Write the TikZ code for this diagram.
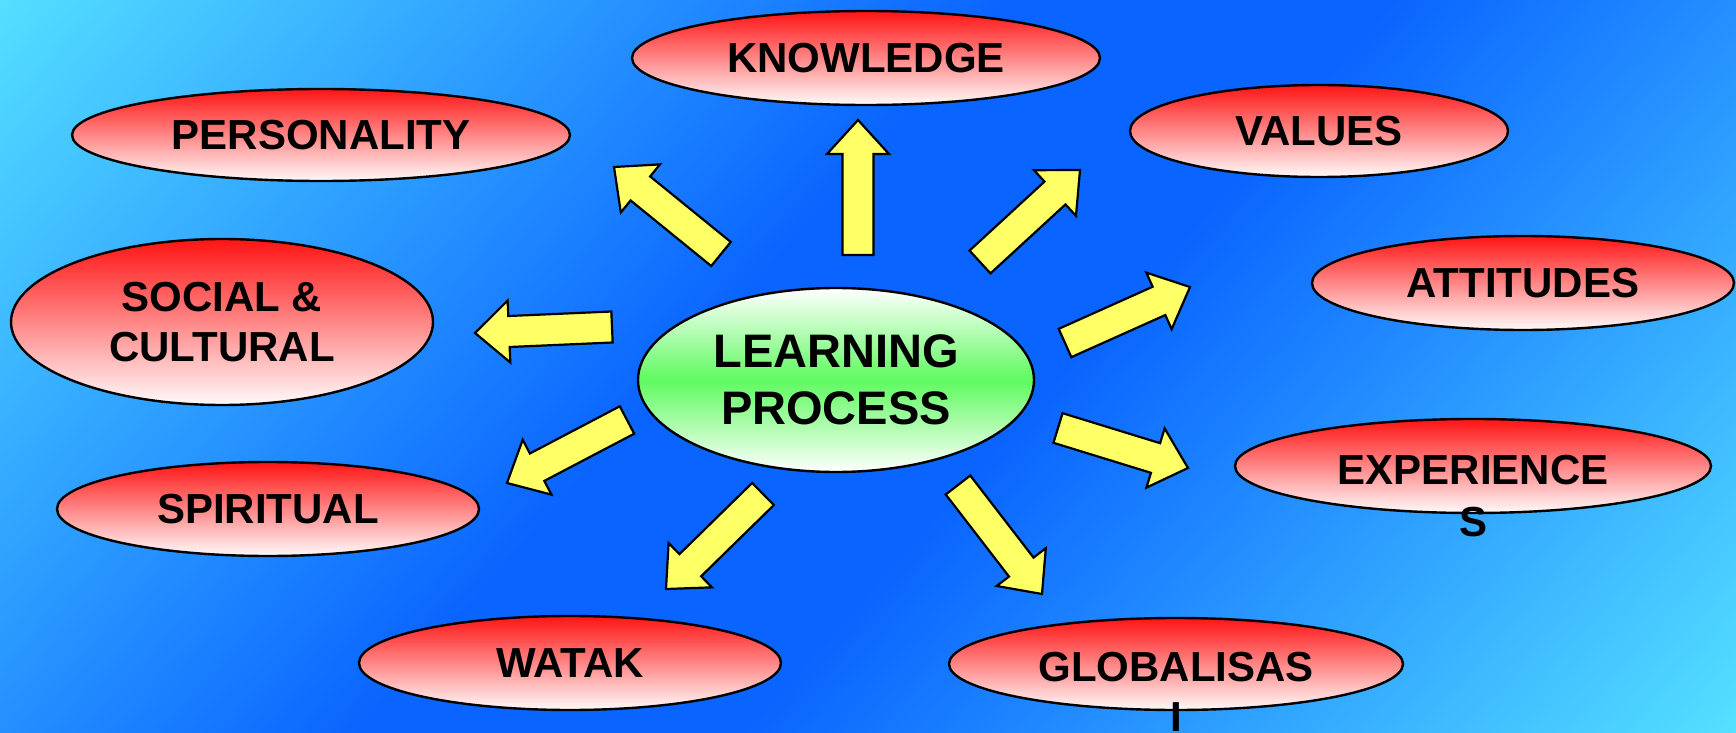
\documentclass[tikz,border=0pt]{standalone}
\usepackage{fontspec}
\setmainfont{Liberation Sans}
\usetikzlibrary{shapes.geometric,calc}
\definecolor{bgcyan}{RGB}{85,224,255}
\definecolor{bgblue}{RGB}{10,100,255}
\definecolor{ovaltop}{RGB}{255,20,20}
\definecolor{ovalbottom}{RGB}{255,250,250}
\definecolor{lpgreen}{RGB}{95,250,95}
\definecolor{arrowfill}{RGB}{255,255,102}
\pgfdeclareverticalshading{skyshade}{100bp}{color(0bp)=(bgcyan); color(3bp)=(bgcyan); color(42bp)=(bgblue); color(57bp)=(bgblue); color(97bp)=(bgcyan); color(100bp)=(bgcyan)}
% fat block arrow from #1 (tail) to #2 (tip)
\newcommand{\fatarrow}[2]{%
  \path ($(#2)!17pt!(#1)$) coordinate (hb);
  \draw[fatarr] ($(#1)!7.75pt!90:(#2)$) -- ($(hb)!7.75pt!90:(#2)$) -- ($(hb)!15.5pt!90:(#2)$) -- (#2)
    -- ($(hb)!15.5pt!-90:(#2)$) -- ($(hb)!7.75pt!-90:(#2)$) -- ($(#1)!7.75pt!-90:(#2)$) -- cycle;}
\begin{document}
\begin{tikzpicture}[x=0.5pt, y=-0.5pt, line join=miter,
	oval/.style={ellipse, draw, line width=1.2pt, inner sep=0pt, top color=ovaltop, bottom color=ovalbottom},
	lbl/.style={font=\fontsize{21}{25}\selectfont\bfseries, align=center, inner sep=0pt},
	fatarr/.style={draw=black, fill=arrowfill, line width=1.1pt}]
	\useasboundingbox (0,0) rectangle (1736,733);
	% background
	\begin{scope}
		\clip (0,0) rectangle (1736,733);
		\begin{scope}[shift={(850,380)}, rotate=48.4, scale=9.5]
			\pgflowlevelsynccm
			\pgftext{\pgfuseshading{skyshade}}
		\end{scope}
	\end{scope}
	% centre
	\node[oval, top color=white, bottom color=white, middle color=lpgreen, minimum width=198pt, minimum height=92pt, lbl, font=\fontsize{23.5}{28.5}\selectfont\bfseries] (lp) at (836,380) {LEARNING\\PROCESS};
	% outer ovals
	\node[oval, lbl, minimum width=234pt, minimum height=47pt] (know) at (866,58) {KNOWLEDGE};
	\node[oval, lbl, minimum width=249pt, minimum height=46pt] (pers) at (321,135) {PERSONALITY};
	\node[oval, lbl, minimum width=189pt, minimum height=46pt] (val) at (1319,131) {VALUES};
	\node[oval, lbl, minimum width=211pt, minimum height=47pt] (att) at (1523,283) {ATTITUDES};
	\node[oval, lbl, minimum width=211pt, minimum height=83pt] (soc) at (222,322) {SOCIAL \&\\CULTURAL};
	\node[oval, lbl, minimum width=211pt, minimum height=47pt] (spir) at (268,509) {SPIRITUAL};
	\node[oval, lbl, minimum width=211pt, minimum height=47pt] (watak) at (570,663) {WATAK};
	\node[oval, minimum width=238pt, minimum height=47pt] (exp) at (1473,466) {};
	\node[lbl, anchor=north, font=\fontsize{21}{26}\selectfont\bfseries] (exptxt) at ($(exp)+(0,-11)$) {EXPERIENCE\\S};
	\node[oval, minimum width=227pt, minimum height=46pt] (glob) at (1176,664) {};
	\node[lbl, anchor=north] (globtxt) at ($(glob)+(0,-12)$) {GLOBALISAS\\I};
	% arrows: tails and tips
	\coordinate (t1) at (858,255); \coordinate (p1) at (858,120);
	\coordinate (t2) at (721,254); \coordinate (p2) at (614,167);
	\coordinate (t3) at (980,262); \coordinate (p3) at (1080,170);
	\coordinate (t4) at (1065,343); \coordinate (p4) at (1190,287);
	\coordinate (t5) at (612,327); \coordinate (p5) at (475,333);
	\coordinate (t6) at (1058,428); \coordinate (p6) at (1188,468);
	\coordinate (t7) at (627,420); \coordinate (p7) at (507,483);
	\coordinate (t8) at (763,494); \coordinate (p8) at (666,589);
	\coordinate (t9) at (958,485); \coordinate (p9) at (1042,594);
	\foreach \i in {1,...,9} {\fatarrow{t\i}{p\i}}
\end{tikzpicture}
\end{document}
